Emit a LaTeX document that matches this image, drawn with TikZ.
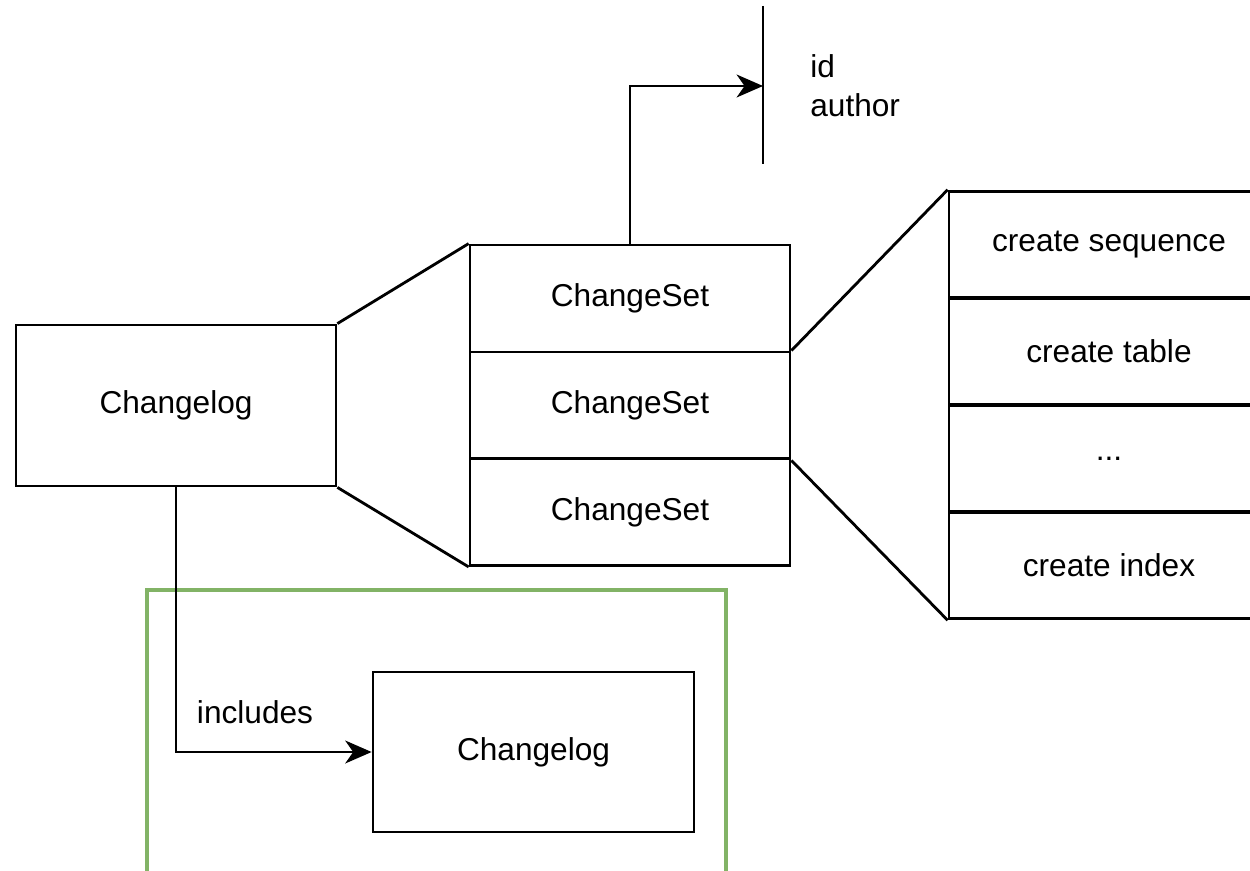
\documentclass[tikz,border=0pt]{standalone}
\usepackage{fontspec}
\setmainfont{Liberation Sans}
\usetikzlibrary{arrows.meta}
\definecolor{groupgreen}{HTML}{82B366}
\tikzset{
  box/.style={draw=black, line width=1.6pt, fill=white, inner sep=0pt, font=\fontsize{18}{22}\selectfont},
  mainbox/.style={box, minimum width=6.4cm, minimum height=3.22cm},
  setbox/.style={box, minimum width=6.4cm, minimum height=2.14cm},
  opbox/.style={box, minimum width=6.4cm, minimum height=2.135cm},
  link/.style={draw=black, line width=1.6pt},
  arrowlink/.style={link, -{Stealth[length=15pt, width=13pt, inset=4.5pt]}},
  lbl/.style={inner sep=0pt, font=\fontsize{18}{22}\selectfont}
}
\begin{document}
\begin{tikzpicture}[x=0.02cm, y=-0.02cm]
  \useasboundingbox (0,0) rectangle (1250,871);
  \clip (0,0) rectangle (1250,871);

  % included changelog group
  \draw[groupgreen, line width=2.6pt] (147,590) rectangle (726,877);

  % root changelog
  \node[mainbox] (cl) at (176,405.5) {Changelog};

  % change sets
  \node[setbox] (cs1) at (630,298.5) {ChangeSet};
  \node[setbox] (cs2) at (630,405.5) {ChangeSet};
  \node[setbox] (cs3) at (630,512) {ChangeSet};

  % operations of a change set
  \node[opbox] (op1) at (1109,244.5) {create sequence};
  \node[opbox] (op2) at (1109,351.5) {create table};
  \node[opbox] (op3) at (1109,458.5) {...};
  \node[opbox] (op4) at (1109,565.5) {create index};

  % included changelog
  \node[box, minimum width=6.42cm, minimum height=3.2cm] (inner) at (533.5,752) {Changelog};

  % expansion lines
  \draw[link] (cl.north east) -- (cs1.north west);
  \draw[link] (cl.south east) -- (cs3.south west);
  \draw[link] (cs2.north east) -- (op1.north west);
  \draw[link] (cs2.south east) -- (op4.south west);

  % attributes bracket
  \coordinate (bartop) at (763,6);
  \coordinate (barbot) at (763,164);
  \coordinate (barmid) at (763,86);
  \draw[link] (bartop) -- (barbot);
  \draw[arrowlink] (cs1.north) |- (barmid);
  \node[lbl, anchor=west, align=left] (attrs) at (810,85.5) {id\\author};

  % include relation
  \draw[arrowlink] (cl.south) |- (inner.west);
  \node[lbl] (inc) at (255,712) {includes};
\end{tikzpicture}
\end{document}
